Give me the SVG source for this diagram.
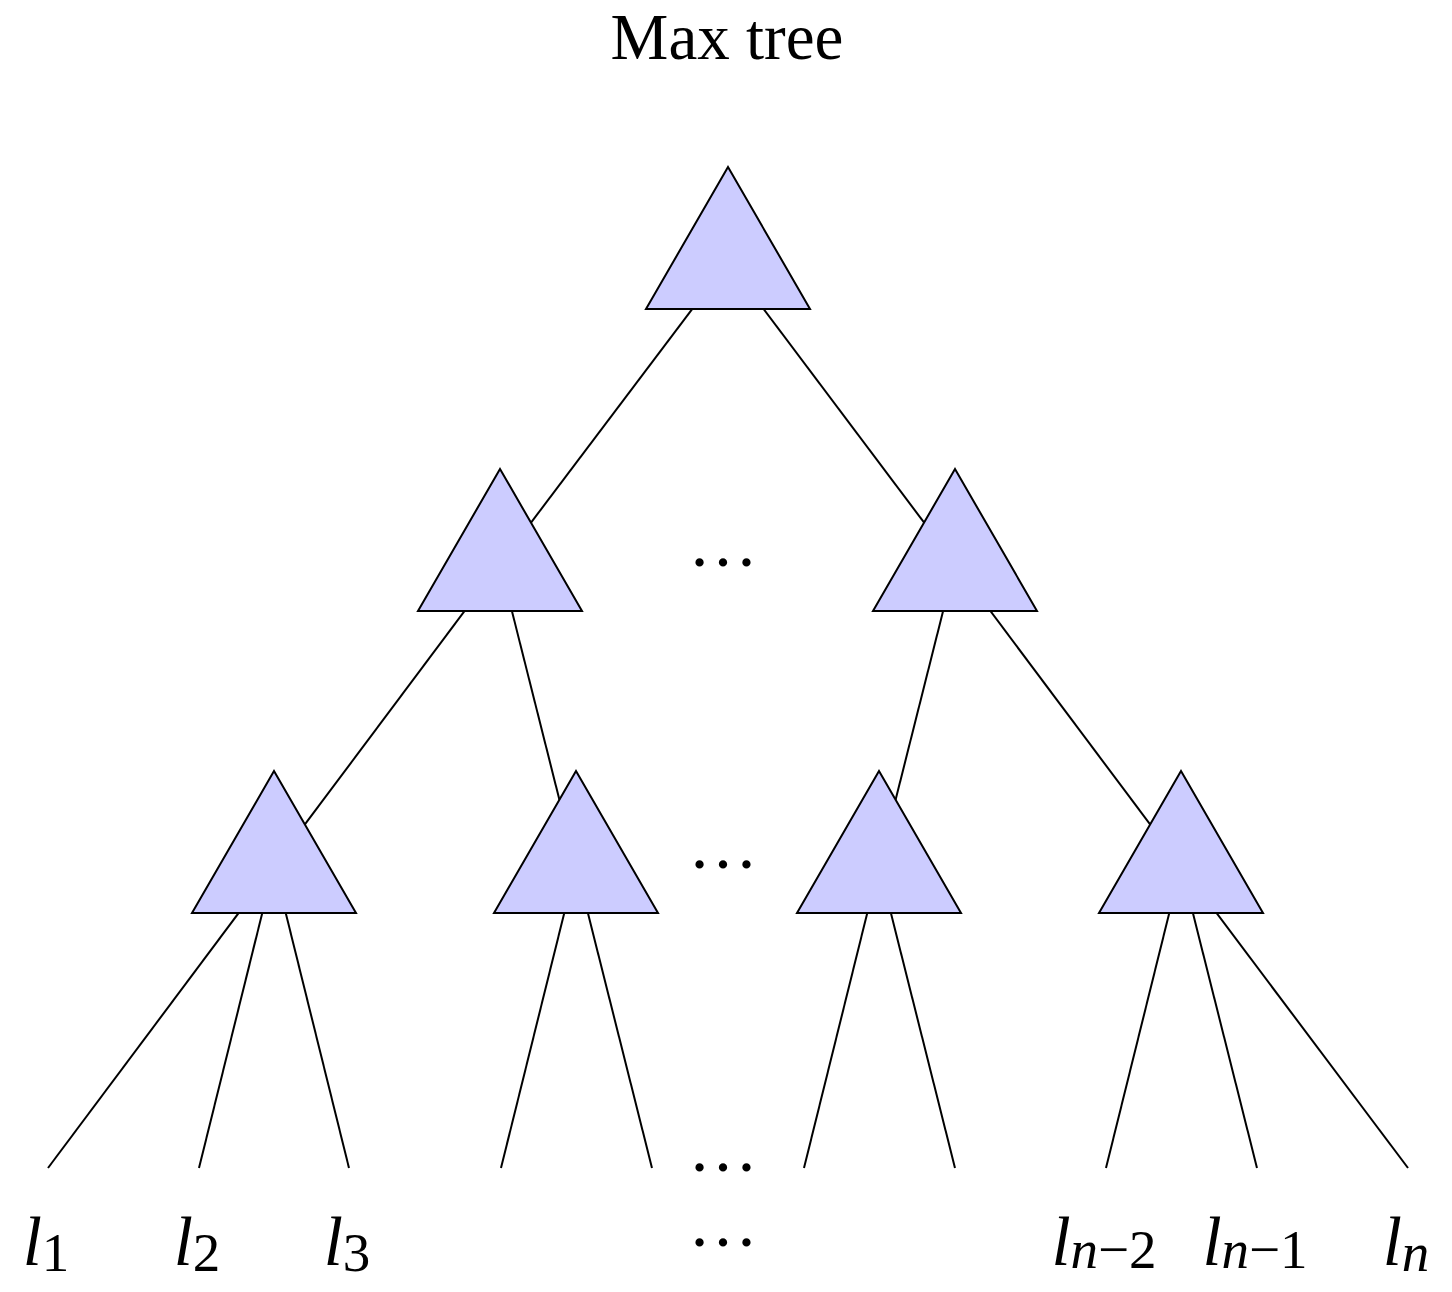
<svg xmlns="http://www.w3.org/2000/svg" width="1452" height="1292" viewBox="0 0 1452 1292">
<style>
.tri{fill:#ccccff;stroke:#000;stroke-width:2;stroke-linejoin:miter}
.e{stroke:#000;stroke-width:2;fill:none}
.t{font-family:"Liberation Serif","Times New Roman",serif;fill:#000}
.lab{font-family:"Liberation Serif","Times New Roman",serif;font-size:69px;fill:#000;text-anchor:middle}
.it{font-style:italic}
.sub{font-size:55px}
.dots{font-family:"Liberation Serif","Times New Roman",serif;font-size:70px;text-anchor:middle;fill:#000}
</style>
<rect width="1452" height="1292" fill="#fff"/>
<text class="t" x="727" y="59" font-size="65" text-anchor="middle">Max tree</text>
<g id="connectors">
<line class="e" x1="728" y1="261.7" x2="500" y2="563.7"/>
<line class="e" x1="728" y1="261.7" x2="955" y2="563.7"/>
<line class="e" x1="500" y1="563.7" x2="274" y2="865.7"/>
<line class="e" x1="500" y1="563.7" x2="576" y2="865.7"/>
<line class="e" x1="955" y1="563.7" x2="879" y2="865.7"/>
<line class="e" x1="955" y1="563.7" x2="1181" y2="865.7"/>
<line class="e" x1="274" y1="865.7" x2="48" y2="1168"/>
<line class="e" x1="274" y1="865.7" x2="199" y2="1168"/>
<line class="e" x1="274" y1="865.7" x2="349" y2="1168"/>
<line class="e" x1="576" y1="865.7" x2="501" y2="1168"/>
<line class="e" x1="576" y1="865.7" x2="652" y2="1168"/>
<line class="e" x1="879" y1="865.7" x2="804" y2="1168"/>
<line class="e" x1="879" y1="865.7" x2="955" y2="1168"/>
<line class="e" x1="1181" y1="865.7" x2="1106" y2="1168"/>
<line class="e" x1="1181" y1="865.7" x2="1257" y2="1168"/>
<line class="e" x1="1181" y1="865.7" x2="1408" y2="1168"/>
</g>
<g id="root"><polygon class="tri" points="728,167 810,309 646,309"/></g>
<g id="n21"><polygon class="tri" points="500,469 582,611 418,611"/></g>
<g id="n22"><polygon class="tri" points="955,469 1037,611 873,611"/></g>
<g id="n31"><polygon class="tri" points="274,771 356,913 192,913"/></g>
<g id="n32"><polygon class="tri" points="576,771 658,913 494,913"/></g>
<g id="n33"><polygon class="tri" points="879,771 961,913 797,913"/></g>
<g id="n34"><polygon class="tri" points="1181,771 1263,913 1099,913"/></g>
<g id="dots">
<text class="dots" x="723" y="566">…</text>
<text class="dots" x="723" y="868">…</text>
<text class="dots" x="723" y="1171">…</text>
<text class="dots" x="723" y="1246">…</text>
</g>
<g id="labels">
<text class="lab" x="46" y="1265"><tspan class="it">l</tspan><tspan class="sub" dy="6">1</tspan></text>
<text class="lab" x="197" y="1265"><tspan class="it">l</tspan><tspan class="sub" dy="6">2</tspan></text>
<text class="lab" x="347" y="1265"><tspan class="it">l</tspan><tspan class="sub" dy="6">3</tspan></text>
<text class="lab" x="1104" y="1265"><tspan class="it">l</tspan><tspan class="sub" dy="3"><tspan class="it">n</tspan>−2</tspan></text>
<text class="lab" x="1255" y="1265"><tspan class="it">l</tspan><tspan class="sub" dy="3"><tspan class="it">n</tspan>−1</tspan></text>
<text class="lab" x="1406" y="1265"><tspan class="it">l</tspan><tspan class="sub it" dy="6">n</tspan></text>
</g>
</svg>
